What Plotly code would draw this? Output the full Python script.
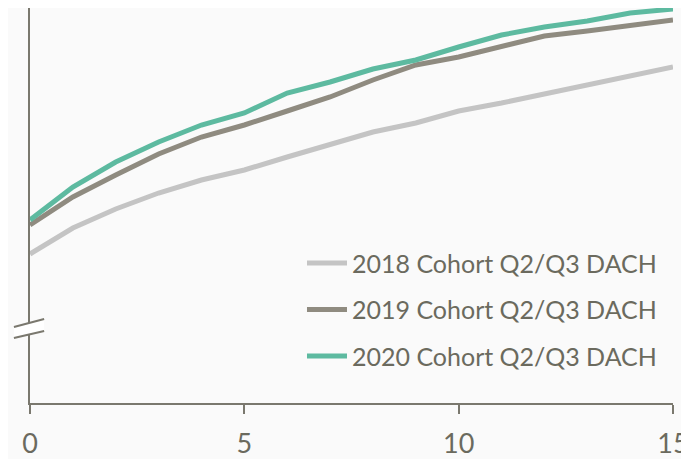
import plotly.graph_objects as go

# months since start (x) and indexed values
months = list(range(16))
cohort_2018 = [149, 175, 194, 210, 223, 233, 246, 259, 271, 280, 292, 300, 309, 319, 327, 336]
cohort_2019 = [178, 206, 228, 249, 266, 278, 292, 306, 323, 338, 346, 357, 367, 372, 378, 383]
cohort_2020 = [183, 216, 241, 261, 278, 290, 310, 321, 334, 343, 356, 368, 376, 382, 390, 394]

names = ["2018 Cohort Q2/Q3 DACH", "2019 Cohort Q2/Q3 DACH", "2020 Cohort Q2/Q3 DACH"]
colors = ["#c4c4c4", "#8f8b80", "#5dbaa0"]
text_col = "#6b6a5e"
axis_col = "#7a786e"
bg = "#fafafa"

fig = go.Figure()
for i, (vals, name, col) in enumerate(zip([cohort_2018, cohort_2019, cohort_2020], names, colors)):
    fig.add_trace(go.Scatter(x=months, y=vals, name=name, mode="lines",
                             line=dict(color=col, width=5), legendgroup=str(i)))

# axis break marker on the y axis
fig.add_shape(type="path", xref="paper", yref="paper",
              path="M -0.025 0.1924 L 0.022 0.2127 L 0.022 0.1823 L -0.025 0.1646 Z",
              fillcolor="white", line_width=0, layer="above")
fig.add_shape(type="line", xref="paper", yref="paper", x0=-0.025, y0=0.1924, x1=0.022, y1=0.2127,
              line=dict(color=axis_col, width=2), layer="above")
fig.add_shape(type="line", xref="paper", yref="paper", x0=-0.025, y0=0.1646, x1=0.022, y1=0.1823,
              line=dict(color=axis_col, width=2), layer="above")

# page body keeps its default 8px margin, so the figure is sized to fit inside it
fig.update_layout(
    width=681, height=451,
    margin=dict(l=22, r=16, t=0, b=56, autoexpand=False),
    paper_bgcolor=bg, plot_bgcolor=bg,
    font=dict(family="Lato", color=text_col, size=25),
    legend=dict(x=0.423, y=0.412, xanchor="left", yanchor="top", bgcolor="rgba(0,0,0,0)",
                tracegroupgap=11, itemwidth=40, font=dict(size=25)),
    xaxis=dict(range=[0, 15], tickvals=[0, 5, 10, 15], showgrid=False, zeroline=False,
               showline=True, linecolor=axis_col, linewidth=2, automargin=False,
               ticks="outside", ticklen=9, tickwidth=2, tickcolor=axis_col,
               ticklabelstandoff=7, tickfont=dict(size=27, color=text_col)),
    yaxis=dict(range=[0, 395], showgrid=False, zeroline=False, showticklabels=False,
               showline=True, linecolor=axis_col, linewidth=2, automargin=False),
)

fig.write_html("out.html")
